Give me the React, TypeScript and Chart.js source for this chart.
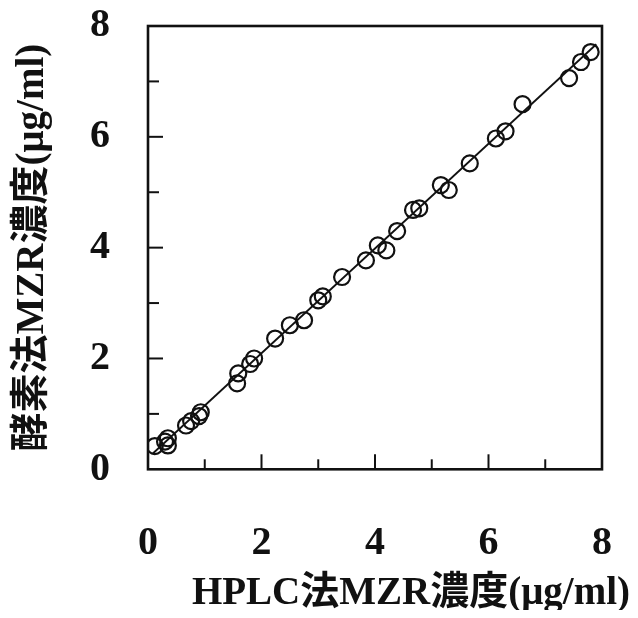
import { useEffect, useRef } from "react";
import { Chart, registerables } from "chart.js";

Chart.register(...registerables);

// HPLC method concentration (x) vs enzyme method concentration (y), µg/ml
const hplcValues = [0.12, 0.3, 0.35, 0.35, 0.67, 0.76, 0.9, 0.93, 1.57, 1.59, 1.8, 1.87, 2.24, 2.5, 2.75, 3.0, 3.08, 3.42, 3.84, 4.05, 4.2, 4.39, 4.67, 4.78, 5.16, 5.3, 5.67, 6.13, 6.3, 6.6, 7.42, 7.63, 7.8];
const enzymeValues = [0.42, 0.5, 0.43, 0.56, 0.79, 0.87, 0.96, 1.03, 1.55, 1.73, 1.9, 2.0, 2.36, 2.6, 2.69, 3.05, 3.12, 3.47, 3.77, 4.04, 3.95, 4.3, 4.68, 4.71, 5.13, 5.04, 5.52, 5.97, 6.1, 6.59, 7.06, 7.35, 7.53];

// regression line end points
const fitX = [0.08, 7.9];
const fitY = [0.28, 7.67];

const majorTicks = [2, 4, 6];
const minorTicks = [1, 3, 5, 7];
const axisMin = 0;
const axisMax = 8;

const xTitle = "HPLC法MZR濃度(μg/ml)";
const yTitle = "酵素法MZR濃度(μg/ml)";

const FONT = '"Liberation Serif", "Times New Roman", "Noto Sans CJK JP", serif';

const framePlugin = {
  id: "frameTicks",
  afterDatasetsDraw(chart: any) {
    const { ctx, chartArea: a, scales } = chart;
    const x = scales.x;
    const y = scales.y;
    ctx.save();
    ctx.strokeStyle = "#111";
    ctx.lineWidth = 2;
    const seg = (x1: number, y1: number, x2: number, y2: number) => {
      ctx.beginPath();
      ctx.moveTo(x1, y1);
      ctx.lineTo(x2, y2);
      ctx.stroke();
    };
    for (const v of majorTicks) {
      const px = x.getPixelForValue(v);
      seg(px, a.bottom, px, a.bottom - 15);
      const py = y.getPixelForValue(v);
      seg(a.left, py, a.left + 15, py);
    }
    for (const v of minorTicks) {
      const px = x.getPixelForValue(v);
      seg(px, a.bottom, px, a.bottom - 10);
      const py = y.getPixelForValue(v);
      seg(a.left, py, a.left + 11, py);
    }
    ctx.lineWidth = 2.6;
    ctx.strokeRect(a.left, a.top, a.right - a.left, a.bottom - a.top);
    ctx.restore();
  },
};

export default function App() {
  const ref = useRef<HTMLCanvasElement | null>(null);

  useEffect(() => {
    if (!ref.current) return;
    const chart = new Chart(ref.current, {
      type: "scatter",
      data: {
        datasets: [
          {
            type: "line",
            data: fitX.map((v, i) => ({ x: v, y: fitY[i] })),
            borderColor: "#111",
            borderWidth: 1.8,
            pointRadius: 0,
            fill: false,
          } as any,
          {
            data: hplcValues.map((v, i) => ({ x: v, y: enzymeValues[i] })),
            pointStyle: "circle",
            pointRadius: 8,
            pointBorderWidth: 2.2,
            pointBorderColor: "#111",
            pointBackgroundColor: "rgba(0,0,0,0)",
            borderColor: "#111",
            backgroundColor: "rgba(0,0,0,0)",
          },
        ],
      },
      options: {
        animation: false,
        responsive: false,
        events: [],
        layout: { padding: { top: 18, right: 0, left: 0, bottom: 0 } },
        plugins: {
          legend: { display: false },
          tooltip: { enabled: false },
          title: {
            display: true,
            position: "bottom",
            align: "end",
            text: xTitle,
            color: "#111",
            font: { family: FONT, size: 39, weight: "bold", lineHeight: 0.8 },
            padding: { top: 0, bottom: 0 },
          },
        },
        scales: {
          x: {
            type: "linear",
            min: axisMin,
            max: axisMax,
            grid: { display: false, drawTicks: false },
            border: { display: false },
            ticks: {
              stepSize: 2,
              padding: 50,
              color: "#111",
              font: { family: FONT, size: 40, weight: "bold" },
            },
            afterFit(scale: any) {
              scale.height = 109.5;
              scale.paddingLeft = 0;
              scale.paddingRight = 0;
            },
          },
          y: {
            type: "linear",
            min: axisMin,
            max: axisMax,
            grid: { display: false, drawTicks: false },
            border: { display: false },
            ticks: {
              stepSize: 2,
              padding: 38,
              color: "#111",
              font: { family: FONT, size: 40, weight: "bold" },
            },
            title: {
              display: true,
              text: yTitle,
              color: "#111",
              font: { family: FONT, size: 39, weight: "bold", lineHeight: 1.0 },
              padding: { top: 5, bottom: 0 },
            },
            afterFit(scale: any) {
              scale.width = 140;
              scale.paddingTop = 0;
              scale.paddingBottom = 0;
            },
          },
          yRight: {
            type: "linear",
            position: "right",
            min: axisMin,
            max: axisMax,
            grid: { display: false, drawTicks: false },
            border: { display: false },
            ticks: { display: false },
            afterFit(scale: any) {
              scale.width = 28;
              scale.paddingTop = 0;
              scale.paddingBottom = 0;
            },
          },
        },
      },
      plugins: [framePlugin],
    });
    return () => chart.destroy();
  }, []);

  return <canvas ref={ref} width={622} height={602} style={{ display: "block" }} />;
}
